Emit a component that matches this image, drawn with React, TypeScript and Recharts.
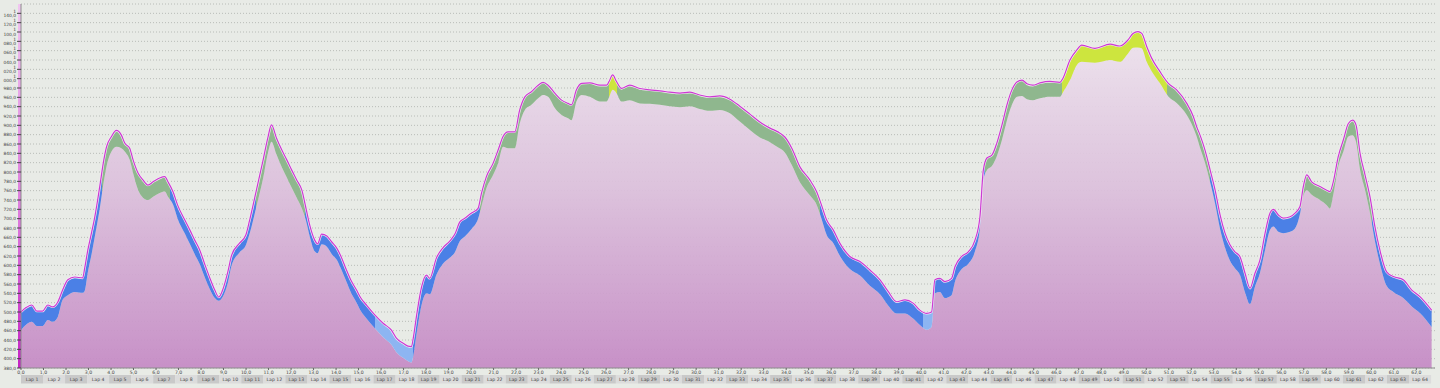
import React from "react";
import { ComposedChart, Area, Line, XAxis, YAxis, CartesianGrid } from "recharts";

// distance along the track (km) for each sample
const KM = [
  0.00, 0.21, 0.48, 0.70, 0.96, 1.19, 1.41, 1.63, 1.85, 2.08,
  2.39, 2.74, 2.83, 2.97, 3.14, 3.28, 3.50, 3.68, 3.80, 4.02,
  4.24, 4.46, 4.61, 4.83, 4.98, 5.20, 5.42, 5.64, 5.87, 6.16,
  6.39, 6.53, 6.76, 6.96, 7.28, 7.50, 7.72, 7.94, 8.16, 8.39,
  8.61, 8.79, 8.96, 9.19, 9.36, 9.72, 9.99, 10.16, 10.46, 10.76,
  10.98, 11.13, 11.35, 11.59, 11.81, 12.03, 12.25, 12.48, 12.65, 12.83,
  13.05, 13.18, 13.36, 13.59, 13.81, 14.03, 14.21, 14.46, 14.65, 14.91,
  15.10, 15.35, 15.72, 16.09, 16.46, 16.68, 16.98, 17.19, 17.35, 17.43,
  17.57, 17.80, 18.02, 18.16, 18.46, 18.74, 19.05, 19.28, 19.50, 19.72,
  20.02, 20.31, 20.46, 20.68, 20.98, 21.20, 21.42, 21.64, 21.94, 22.16,
  22.39, 22.68, 22.98, 23.20, 23.42, 23.72, 24.02, 24.31, 24.46, 24.68,
  24.91, 25.28, 25.72, 26.02, 26.12, 26.29, 26.46, 26.68, 27.05, 27.50,
  27.94, 28.39, 28.83, 29.28, 29.72, 30.16, 30.61, 31.05, 31.50, 31.94,
  32.39, 32.83, 33.28, 33.63, 33.94, 34.25, 34.61, 35.05, 35.35, 35.57,
  35.80, 36.09, 36.39, 36.83, 37.28, 37.72, 38.17, 38.53, 38.91, 39.28,
  39.64, 39.94, 40.24, 40.46, 40.61, 40.83, 41.05, 41.35, 41.50, 41.80,
  42.09, 42.39, 42.61, 42.76, 42.92, 43.14, 43.36, 43.59, 43.81, 44.03,
  44.25, 44.48, 44.70, 44.96, 45.28, 45.72, 46.16, 46.30, 46.61, 46.91,
  47.13, 47.72, 48.39, 48.83, 49.19, 49.41, 49.63, 49.80, 50.02, 50.24,
  50.61, 50.98, 51.35, 51.80, 52.09, 52.24, 52.39, 52.61, 52.84, 53.06,
  53.28, 53.50, 53.72, 53.94, 54.16, 54.39, 54.61, 54.83, 55.05, 55.28,
  55.50, 55.65, 55.87, 56.09, 56.39, 56.61, 56.83, 56.98, 57.13, 57.35,
  57.72, 58.02, 58.16, 58.31, 58.53, 58.76, 58.98, 59.17, 59.32, 59.50,
  59.72, 59.94, 60.16, 60.38, 60.68, 60.98, 61.42, 61.80, 62.16, 62.68,
];

// upper elevation (magenta line)
const ELEV = [
  500, 509, 515, 502, 502, 515, 511, 521, 547, 569,
  575, 573, 594, 633, 671, 704, 769, 826, 854, 876,
  889, 879, 862, 851, 826, 798, 783, 772, 779, 787,
  790, 779, 757, 729, 697, 676, 654, 633, 603, 573,
  547, 532, 547, 586, 622, 648, 665, 697, 761, 826,
  876, 901, 873, 847, 826, 804, 783, 761, 725, 686,
  654, 646, 667, 663, 650, 637, 620, 590, 569, 547,
  530, 515, 494, 476, 461, 444, 433, 427, 426, 444,
  490, 554, 579, 572, 616, 637, 652, 667, 693, 701,
  712, 722, 754, 790, 819, 847, 876, 886, 886, 933,
  961, 972, 986, 992, 986, 969, 954, 947, 944, 976,
  990, 991, 986, 986, 993, 1008, 994, 979, 986, 979,
  976, 974, 971, 969, 971, 965, 961, 963, 956, 941,
  924, 907, 894, 886, 875, 851, 811, 783, 758, 729,
  697, 676, 647, 619, 608, 590, 569, 544, 522, 526,
  519, 504, 497, 500, 569, 572, 565, 572, 597, 619,
  629, 654, 704, 804, 830, 836, 862, 901, 944, 976,
  993, 997, 989, 986, 991, 994, 992, 1001, 1040, 1061,
  1072, 1065, 1074, 1070, 1083, 1097, 1101, 1097, 1069, 1044,
  1015, 990, 976, 947, 919, 897, 879, 847, 804, 761,
  708, 669, 644, 629, 619, 583, 551, 583, 611, 669,
  712, 720, 708, 701, 704, 712, 726, 769, 794, 779,
  769, 761, 758, 779, 833, 869, 904, 911, 901, 840,
  794, 747, 683, 633, 586, 576, 569, 547, 533, 504,
];

// lower elevation (top of the pink fill)
const LOWER = [
  461, 472, 479, 470, 470, 483, 479, 489, 526, 536,
  543, 541, 545, 585, 625, 662, 722, 780, 812, 844,
  854, 851, 844, 826, 798, 762, 745, 740, 747, 755,
  758, 747, 730, 700, 668, 646, 624, 603, 575, 549,
  530, 524, 532, 562, 600, 628, 643, 668, 726, 787,
  843, 865, 838, 810, 788, 766, 745, 722, 698, 662,
  630, 626, 645, 640, 624, 612, 594, 565, 543, 520,
  502, 486, 465, 446, 430, 414, 402, 395, 392, 405,
  450, 515, 540, 538, 580, 603, 616, 628, 652, 662,
  678, 700, 726, 765, 794, 819, 854, 851, 851, 904,
  933, 944, 958, 965, 961, 937, 922, 915, 911, 951,
  965, 961, 951, 951, 959, 976, 969, 951, 954, 947,
  946, 944, 941, 939, 941, 935, 931, 933, 926, 908,
  890, 874, 864, 853, 842, 815, 778, 750, 730, 700,
  665, 648, 620, 592, 578, 556, 538, 514, 497, 497,
  486, 472, 462, 468, 540, 543, 530, 536, 565, 592,
  603, 630, 680, 783, 804, 813, 834, 869, 911, 944,
  961, 963, 956, 954, 958, 961, 961, 971, 997, 1029,
  1036, 1034, 1040, 1036, 1054, 1066, 1067, 1065, 1036, 1016,
  990, 962, 948, 922, 895, 876, 852, 820, 778, 732,
  678, 638, 610, 594, 580, 542, 517, 554, 583, 633,
  676, 683, 672, 669, 672, 679, 710, 749, 761, 751,
  740, 729, 722, 751, 811, 844, 876, 879, 865, 805,
  762, 712, 652, 604, 556, 543, 530, 512, 498, 468,
];

// colour zones of the band between the two curves (start km + kind)
const SEG_KM = [0, 3.59, 6.61, 10.43, 12.61, 15.72, 17.41, 20.39, 26.12, 26.48, 35.50, 40.08, 40.52, 42.83, 46.25, 50.92, 52.83, 56.88, 60.03];
const SEG_KIND = ['b', 'g', 'b', 'g', 'b', 'lb', 'b', 'g', 'y', 'g', 'b', 'lb', 'b', 'g', 'y', 'g', 'b', 'g', 'b'];
const ZONE_COLOR: Record<string, string> = { b: '#4b80e6', lb: '#8db5f2', g: '#8fb78e', y: '#cde53e' };

const Y_TICKS = Array.from({ length: 39 }, (_, i) => 380 + i * 20);
const X_TICKS = Array.from({ length: 63 }, (_, i) => i);
const LAP_LABELS = Array.from({ length: 64 }, (_, i) => `Lap ${i + 1}`);
const LAP_KM = 0.979;

const W = 1440, H = 388;
const PLOT_L = 21, PLOT_R = 1435, PLOT_T = 4, PLOT_B = 368;
const X_MAX = 62.83;
const PX_KM = (PLOT_R - PLOT_L) / X_MAX;

const DATA = KM.map((km, i) => ({ km, top: ELEV[i], low: LOWER[i], band: [LOWER[i], ELEV[i]] }));

function fmt(v: number) {
  const [a, b] = v.toFixed(1).split('.');
  return a.replace(/\B(?=(\d{3})+(?!\d))/g, ' ') + ',' + b;
}

// x tick: km label plus the lap box that sits below it
function KmTick(props: any) {
  const { x, y, payload, index } = props;
  const laps = index === X_TICKS.length - 1 ? [index, index + 1] : [index];
  return (
    <g>
      <text x={x} y={y + 3.6} textAnchor="middle" fontSize={4.6} fill="#444" fontFamily="DejaVu Sans">{fmt(payload.value)}</text>
      {laps.map(li => {
        const x0 = PLOT_L + li * LAP_KM * PX_KM;
        const w = LAP_KM * PX_KM;
        return (
          <g key={li}>
            <rect x={x0} y={y + 5} width={w} height={8.5} fill={li % 2 === 0 ? '#c9c9c9' : '#dcdcdc'} />
            <text x={x0 + w / 2} y={y + 11} textAnchor="middle" fontSize={4.6} fill="#444" fontFamily="DejaVu Sans">{LAP_LABELS[li]}</text>
          </g>
        );
      })}
    </g>
  );
}

export default function App() {
  const stops: React.ReactNode[] = [];
  SEG_KM.forEach((s, i) => {
    const e = i + 1 < SEG_KM.length ? SEG_KM[i + 1] : X_MAX;
    const c = ZONE_COLOR[SEG_KIND[i]];
    stops.push(<stop key={i + 'a'} offset={s / X_MAX} stopColor={c} />);
    stops.push(<stop key={i + 'b'} offset={e / X_MAX} stopColor={c} />);
  });

  return (
    <div style={{ position: 'relative', width: W, height: H, background: '#e8ebe6', fontFamily: 'DejaVu Sans' }}>
      <style>{'body{margin:0}'}</style>
      {/* colour strip next to the elevation axis */}
      <div style={{
        position: 'absolute', left: 17.5, top: PLOT_T, width: 3.5, height: PLOT_B - PLOT_T,
        background: 'linear-gradient(to bottom, #f0c6f0, #dc78dc 60%, #c424c4)',
      }} />
      <ComposedChart width={W} height={H} data={DATA} margin={{ top: PLOT_T, right: W - PLOT_R, bottom: 0, left: 0 }}>
        <defs>
          <linearGradient id="pinkFill" gradientUnits="userSpaceOnUse" x1={0} y1={PLOT_T} x2={0} y2={PLOT_B}>
            <stop offset={0} stopColor="#f1e9f1" />
            <stop offset={0.5} stopColor="#dcc0dc" />
            <stop offset={1} stopColor="#c58ac5" />
          </linearGradient>
          <linearGradient id="bandFill" gradientUnits="userSpaceOnUse" x1={PLOT_L} y1={0} x2={PLOT_R} y2={0}>
            {stops}
          </linearGradient>
        </defs>
        <CartesianGrid vertical={false} stroke="#b8bcb7" strokeDasharray="1 2" />
        <XAxis
          dataKey="km" type="number" domain={[0, X_MAX]} allowDataOverflow ticks={X_TICKS} interval={0}
          height={H - PLOT_B} tickSize={2} tickMargin={0}
          axisLine={{ stroke: '#8c8c8c' }} tickLine={{ stroke: '#666' }}
          tick={<KmTick />}
        />
        <YAxis
          type="number" domain={[380, 1160]} allowDataOverflow ticks={Y_TICKS} interval={0} width={PLOT_L}
          tickSize={4} tickMargin={1}
          axisLine={{ stroke: '#8c8c8c' }} tickLine={{ stroke: '#444' }}
          tick={{ fontSize: 4.4, fill: '#444' }} tickFormatter={fmt}
        />
        <Area type="monotone" dataKey="low" stroke="none" fill="url(#pinkFill)" fillOpacity={0.93} isAnimationActive={false} dot={false} activeDot={false} />
        <Area type="monotone" dataKey="band" stroke="none" fill="url(#bandFill)" fillOpacity={1} isAnimationActive={false} dot={false} activeDot={false} />
        <Line type="monotone" dataKey="top" stroke="#f6ecf6" strokeWidth={2.4} dot={false} activeDot={false} isAnimationActive={false} />
        <Line type="monotone" dataKey="top" stroke="#cc3ad2" strokeWidth={1.2} dot={false} activeDot={false} isAnimationActive={false} />
      </ComposedChart>
    </div>
  );
}
